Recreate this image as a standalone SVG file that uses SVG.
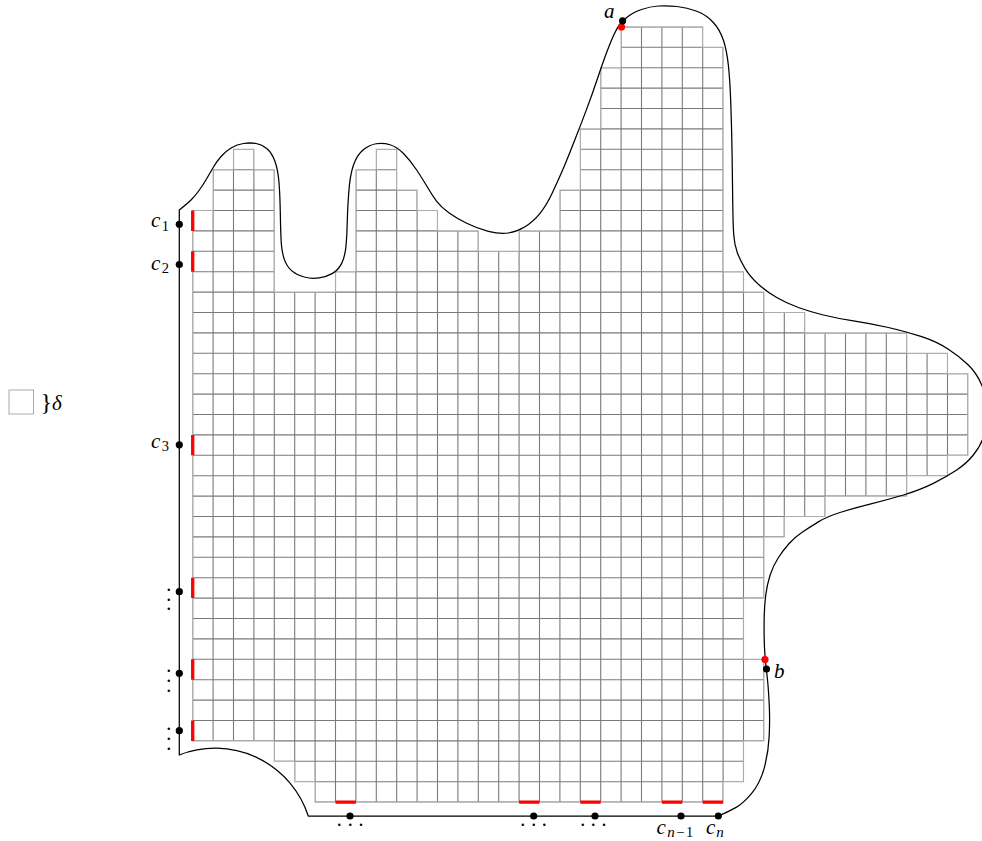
<svg xmlns="http://www.w3.org/2000/svg" width="982" height="841" viewBox="0 0 982 841">
<style>
.m{font-family:"Liberation Serif","DejaVu Serif",serif;font-style:italic;font-size:21px;fill:#000}
.s{font-style:normal;font-size:14.5px}
.si{font-style:italic;font-size:15px}
.d{font-family:"Liberation Serif","DejaVu Serif",serif;font-size:20px;fill:#000}
.dot{fill:#000}
.rdot{fill:#f00}
</style>
<defs>
<clipPath id="cells">
<polygon points="233.5,149.3 253.9,149.3 253.9,169.7 274.3,169.7 274.3,292.1 335.5,292.1 335.5,271.7 355.9,271.7 355.9,169.7 376.3,169.7 376.3,149.3 396.7,149.3 396.7,190.1 417.1,190.1 417.1,210.5 437.5,210.5 437.5,230.9 478.3,230.9 478.3,251.3 519.1,251.3 519.1,230.9 559.9,230.9 559.9,190.1 580.3,190.1 580.3,128.9 600.7,128.9 600.7,67.7 621.1,67.7 621.1,26.9 702.7,26.9 702.7,47.3 723.1,47.3 723.1,271.7 743.5,271.7 743.5,292.1 763.9,292.1 763.9,312.5 804.7,312.5 804.7,332.9 906.7,332.9 906.7,353.3 947.5,353.3 947.5,373.7 967.9,373.7 967.9,455.3 947.5,455.3 947.5,475.7 906.7,475.7 906.7,496.1 825.1,496.1 825.1,516.5 784.3,516.5 784.3,536.9 763.9,536.9 763.9,598.1 743.5,598.1 743.5,659.3 763.9,659.3 763.9,740.9 743.5,740.9 743.5,781.7 723.1,781.7 723.1,802.1 315.1,802.1 315.1,781.7 294.7,781.7 294.7,761.3 274.3,761.3 274.3,740.9 192.7,740.9 192.7,210.5 213.1,210.5 213.1,169.7 233.5,169.7"/>
</clipPath>
</defs>
<g id="grid">
<path clip-path="url(#cells)" fill="none" stroke="#7a7a7a" stroke-width="1.1" d="M192.7 20V810M213.1 20V810M233.5 20V810M253.9 20V810M274.3 20V810M294.7 20V810M315.1 20V810M335.5 20V810M355.9 20V810M376.3 20V810M396.7 20V810M417.1 20V810M437.5 20V810M457.9 20V810M478.3 20V810M498.7 20V810M519.1 20V810M539.5 20V810M559.9 20V810M580.3 20V810M600.7 20V810M621.1 20V810M641.5 20V810M661.9 20V810M682.3 20V810M702.7 20V810M723.1 20V810M743.5 20V810M763.9 20V810M784.3 20V810M804.7 20V810M825.1 20V810M845.5 20V810M865.9 20V810M886.3 20V810M906.7 20V810M927.1 20V810M947.5 20V810M967.9 20V810M185 26.9H975M185 47.3H975M185 67.7H975M185 88.1H975M185 108.5H975M185 128.9H975M185 149.3H975M185 169.7H975M185 190.1H975M185 210.5H975M185 230.9H975M185 251.3H975M185 271.7H975M185 292.1H975M185 312.5H975M185 332.9H975M185 353.3H975M185 373.7H975M185 394.1H975M185 414.5H975M185 434.9H975M185 455.3H975M185 475.7H975M185 496.1H975M185 516.5H975M185 536.9H975M185 557.3H975M185 577.7H975M185 598.1H975M185 618.5H975M185 638.9H975M185 659.3H975M185 679.7H975M185 700.1H975M185 720.5H975M185 740.9H975M185 761.3H975M185 781.7H975M185 802.1H975"/>
<polygon fill="none" stroke="#adadad" stroke-width="1.1" points="233.5,149.3 253.9,149.3 253.9,169.7 274.3,169.7 274.3,292.1 335.5,292.1 335.5,271.7 355.9,271.7 355.9,169.7 376.3,169.7 376.3,149.3 396.7,149.3 396.7,190.1 417.1,190.1 417.1,210.5 437.5,210.5 437.5,230.9 478.3,230.9 478.3,251.3 519.1,251.3 519.1,230.9 559.9,230.9 559.9,190.1 580.3,190.1 580.3,128.9 600.7,128.9 600.7,67.7 621.1,67.7 621.1,26.9 702.7,26.9 702.7,47.3 723.1,47.3 723.1,271.7 743.5,271.7 743.5,292.1 763.9,292.1 763.9,312.5 804.7,312.5 804.7,332.9 906.7,332.9 906.7,353.3 947.5,353.3 947.5,373.7 967.9,373.7 967.9,455.3 947.5,455.3 947.5,475.7 906.7,475.7 906.7,496.1 825.1,496.1 825.1,516.5 784.3,516.5 784.3,536.9 763.9,536.9 763.9,598.1 743.5,598.1 743.5,659.3 763.9,659.3 763.9,740.9 743.5,740.9 743.5,781.7 723.1,781.7 723.1,802.1 315.1,802.1 315.1,781.7 294.7,781.7 294.7,761.3 274.3,761.3 274.3,740.9 192.7,740.9 192.7,210.5 213.1,210.5 213.1,169.7 233.5,169.7"/>
</g>
<g id="boundary">
<path fill="none" stroke="#000" stroke-width="1.25" stroke-linejoin="round" d="M179.3,755 V210 Q188,203 191.5,199.5 Q195,196 199,190.5 Q203,185 206.5,179 Q210,173 213.5,167 Q217,161 221.5,156 Q226,151 231.5,147.75 Q237,144.5 243.5,143.5 Q250,142.5 256,143.5 Q262,144.5 267,148.75 Q272,153 275,161.5 Q278,170 279,182.5 Q280,195 280.35,215 Q280.7,235 281.35,244 Q282,253 284.5,259.85 Q287,266.7 291.85,270.85 Q296.7,275 304.2,277 Q311.7,279 319.2,277.85 Q326.7,276.7 332.5,273.35 Q338.3,270 341.65,263.35 Q345,256.7 346,245.85 Q347,235 347.25,222.5 Q347.5,210 348.75,192.5 Q350,175 353.5,165 Q357,155 363,150 Q369,145 376,143.75 Q383,142.5 390,144.75 Q397,147 403.5,153.5 Q410,160 416.65,170 Q423.3,180 427.65,187.5 Q432,195 436.5,201 Q441,207 448.85,212.65 Q456.7,218.3 466.7,223.3 Q476.7,228.3 488.35,231.3 Q500,234.3 508.35,233 Q516.7,231.7 525,226.7 Q533.3,221.7 540,213.35 Q546.7,205 552.5,192.5 Q558.3,180 562.65,170 Q567,160 573.5,143.35 Q580,126.7 586,110.85 Q592,95 597.5,78.5 Q603,62 607,51.5 Q611,41 614,34.5 Q617,28 619.65,24.5 Q622.3,21 627.65,16.75 Q633,12.5 641.5,9.5 Q650,6.5 658.5,6 Q667,5.5 677,6.5 Q687,7.5 696.85,11.25 Q706.7,15 713.35,22.5 Q720,30 723.35,40 Q726.7,50 728.35,65 Q730,80 730.85,105 Q731.7,130 732.1,155 Q732.5,180 732.75,202.5 Q733,225 733.75,235 Q734.5,245 737.25,252.5 Q740,260 745,268.35 Q750,276.7 758.35,284.2 Q766.7,291.7 776.7,297.5 Q786.7,303.3 798.35,307.5 Q810,311.7 823.35,315 Q836.7,318.3 853.35,320.8 Q870,323.3 888.35,327.5 Q906.7,331.7 921.7,336.7 Q936.7,341.7 948.35,349.2 Q960,356.7 968.35,365 Q976.7,373.3 981.35,384.15 Q986,395 987,403.5 Q988,412 987,421 Q986,430 983,438.35 Q980,446.7 973.35,455 Q966.7,463.3 956.7,470 Q946.7,476.7 933.35,483.35 Q920,490 903.35,495 Q886.7,500 870,504.15 Q853.3,508.3 840,512.5 Q826.7,516.7 818.35,521.85 Q810,527 802.5,532 Q795,537 789.15,543.5 Q783.3,550 778.15,558 Q773,566 770,575.5 Q767,585 765.75,595 Q764.5,605 764.25,615 Q764,625 764.15,635.85 Q764.3,646.7 764.9,654.35 Q765.5,662 766.25,668.5 Q767,675 767.75,682.5 Q768.5,690 769.25,705 Q770,720 769.15,736.65 Q768.3,753.3 764.15,768.3 Q760,783.3 751.65,793.3 Q743.3,803.3 735.65,807.65 Q728,812 718.3,816 H308.3 A98,98 0 0 0 179.3,755 Z"/>
</g>
<g id="red-edges">
<path fill="none" stroke="#f00" stroke-width="3.3" d="M192.7 210.5V230.9M192.7 251.3V271.7M192.7 434.9V455.3M192.7 577.7V598.1M192.7 659.3V679.7M192.7 720.5V740.9M335.5 802.1H355.9M519.1 802.1H539.5M580.3 802.1H600.7M661.9 802.1H682.3M702.7 802.1H723.1"/>
</g>
<g id="points">
<circle class="rdot" cx="621.5" cy="26.9" r="3.6"/>
<circle class="rdot" cx="765" cy="659.5" r="3.6"/>
<circle class="dot" cx="622.6" cy="20.8" r="3.6"/>
<circle class="dot" cx="766.5" cy="669" r="3.6"/>
<circle class="dot" cx="179.3" cy="224.3" r="3.6"/>
<circle class="dot" cx="179.3" cy="264.5" r="3.6"/>
<circle class="dot" cx="179.3" cy="444.8" r="3.6"/>
<circle class="dot" cx="179.3" cy="591.7" r="3.6"/>
<circle class="dot" cx="179.3" cy="673.3" r="3.6"/>
<circle class="dot" cx="179.3" cy="730.7" r="3.6"/>
<circle class="dot" cx="350" cy="816" r="3.6"/>
<circle class="dot" cx="533.7" cy="816" r="3.6"/>
<circle class="dot" cx="595" cy="816" r="3.6"/>
<circle class="dot" cx="681" cy="816" r="3.6"/>
<circle class="dot" cx="718.3" cy="816" r="3.6"/>
</g>
<g id="labels">
<text class="m" x="604" y="17.5">a</text>
<text class="m" x="774" y="678">b</text>
<text class="m" x="151" y="227">c<tspan class="s" dx="1.5" dy="4">1</tspan></text>
<text class="m" x="151" y="270">c<tspan class="s" dx="1.5" dy="3">2</tspan></text>
<text class="m" x="151" y="447.5">c<tspan class="s" dx="1.5" dy="3.5">3</tspan></text>
<text class="m" x="656.5" y="833.5">c<tspan class="si" dx="1.5" dy="3.5">n</tspan><tspan class="s" dx="1.5">−</tspan><tspan class="s" dx="1.5">1</tspan></text>
<text class="m" x="706" y="833.5">c<tspan class="si" dx="1" dy="3.5">n</tspan></text>
<text class="d" x="336.8 347.8 358.5" y="825.5">...</text>
<text class="d" x="520.2 531.2 541.8" y="825.5">...</text>
<text class="d" x="580.2 590.8 601.5" y="825.5">...</text>
<text class="d" x="166.2 166.2 166.2" y="590.5 600.5 610.2">...</text>
<text class="d" x="166.2 166.2 166.2" y="672 682 692">...</text>
<text class="d" x="166.2 166.2 166.2" y="729.5 739.5 749.5">...</text>
</g>
<g id="legend">
<rect x="9" y="390" width="24.5" height="24" fill="none" stroke="#aaa" stroke-width="1"/>
<text class="m" x="40.5" y="410"><tspan font-style="normal" font-size="24">}</tspan>δ</text>
</g>
</svg>
